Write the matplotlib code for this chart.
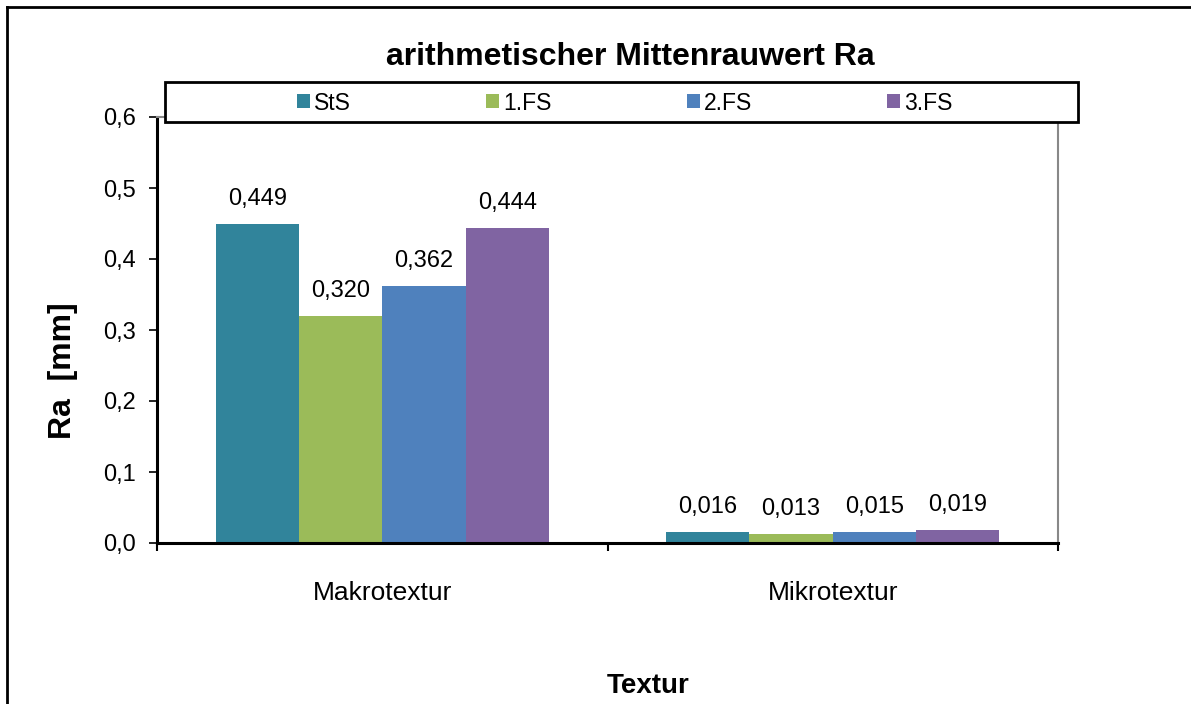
import matplotlib.pyplot as plt
from matplotlib.patches import Rectangle
from matplotlib.lines import Line2D
import numpy as np

plt.rcParams['font.family'] = ['Liberation Sans', 'DejaVu Sans']

# data
categories = ['Makrotextur', 'Mikrotextur']
series = ['StS', '1.FS', '2.FS', '3.FS']
values = [
    [0.449, 0.016],
    [0.320, 0.013],
    [0.362, 0.015],
    [0.444, 0.019],
]
colors = ['#31849B', '#9BBB59', '#4F81BD', '#8064A2']
yticks = [0.0, 0.1, 0.2, 0.3, 0.4, 0.5, 0.6]

W, H = 1191, 704
fig = plt.figure(figsize=(W/100, H/100), dpi=100)
ax = fig.add_axes([157/W, 1 - 543/H, (1058-157)/W, (543-117)/H])

x = np.arange(len(categories))
w = 0.185
for i, (name, vals) in enumerate(zip(series, values)):
    pos = x + (i - 1.5) * w
    bars = ax.bar(pos, vals, width=w, color=colors[i], label=name, zorder=2)
    for b, v in zip(bars, vals):
        ax.annotate(f'{v:.3f}'.replace('.', ','), (b.get_x() + b.get_width()/2, v),
                    xytext=(0, 10), textcoords='offset points', ha='center', va='bottom',
                    fontsize=17)

ax.set_xlim(-0.5, 1.5)
ax.set_ylim(0, 0.6)
ax.set_yticks(yticks)
ax.set_yticklabels([f'{t:.1f}'.replace('.', ',') for t in yticks], fontsize=17)
ax.set_xticks(x)
ax.set_xticklabels(categories, fontsize=19)
ax.tick_params(axis='x', which='major', length=0, pad=27)
ax.set_xticks([-0.5, 0.5, 1.5], minor=True)
ax.tick_params(axis='x', which='minor', length=6, width=1.5, direction='out')
ax.tick_params(axis='y', length=6, width=1.2, direction='out', pad=9)

ax.spines['left'].set_linewidth(2.2)
ax.spines['bottom'].set_linewidth(2.2)
ax.spines['right'].set_color('#888888')
ax.spines['right'].set_linewidth(1.5)
ax.spines['top'].set_color('#888888')
ax.spines['top'].set_linewidth(1.5)

fig.text(63/W, 1 - 371/H, 'Ra  [mm]', rotation=90, ha='center', va='center',
         fontsize=23, fontweight='bold')
fig.text(648/W, 1 - 693/H, 'Textur', ha='center', va='baseline',
         fontsize=20, fontweight='bold')
fig.text(630/W, 1 - 65/H, 'arithmetischer Mittenrauwert Ra', ha='center', va='baseline',
         fontsize=23, fontweight='bold')

# legend box
box = Rectangle((165/W, 1 - 122/H), (1078-165)/W, 40/H, transform=fig.transFigure,
                facecolor='white', edgecolor='black', linewidth=2, zorder=5)
fig.add_artist(box)
handles, labels = ax.get_legend_handles_labels()
leg = fig.legend(handles, labels, loc='center', bbox_to_anchor=(625/W, 1 - 103/H),
                 ncol=4, frameon=False, fontsize=16.5, handlelength=0.57, handleheight=0.57,
                 handletextpad=0.17, columnspacing=5.9, borderpad=0, borderaxespad=0)
leg.set_zorder(6)

# outer frame
fig.add_artist(Line2D([7/W, 7/W], [0, 1 - 7/H], color='black', lw=2, transform=fig.transFigure))
fig.add_artist(Line2D([7/W, 1], [1 - 7/H, 1 - 7/H], color='black', lw=2, transform=fig.transFigure))

fig.savefig('out.png', dpi=100)
